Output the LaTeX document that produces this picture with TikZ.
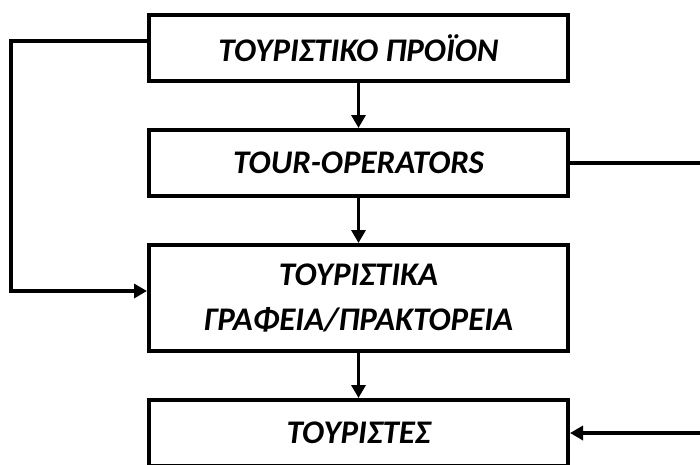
\documentclass[tikz,border=0pt]{standalone}
\usepackage{fontspec}
\setmainfont{Carlito}
\usepackage{tikz}
\usetikzlibrary{arrows.meta, positioning}

\tikzset{
	box/.style={draw=black, line width=4pt, minimum width=419pt, minimum height=66pt,
		align=center, font=\fontsize{33}{44}\selectfont\bfseries\itshape}
}

\begin{document}
\begin{tikzpicture}[->,
			>={Triangle[length=13pt,width=14pt]},
			node distance=45pt,
			line width=3.3pt]
			
			\useasboundingbox (0,0) rectangle (700pt,-464pt);
			\clip (0,0) rectangle (700pt,-464pt);
			
			\node[box] (prod) at (358.5pt,-48pt) {ΤΟΥΡΙΣΤΙΚΟ ΠΡΟΪΟΝ};
			\node[box] (tour) [below=of prod] {TOUR-OPERATORS};
			\node[box, minimum height=106pt] (agen) [below=of tour] {ΤΟΥΡΙΣΤΙΚΑ\\ΓΡΑΦΕΙΑ/ΠΡΑΚΤΟΡΕΙΑ};
			\node[box] (tourist) [below=of agen] {ΤΟΥΡΙΣΤΕΣ};
			
			\draw (prod) -- (tour);
			\draw (tour) -- (agen);
			\draw (agen) -- (tourist);
			\draw ([yshift=7pt]prod.west) -- ++(-136pt,0) |- ([yshift=7pt]agen.west);
			\draw (tour.east) -- ++(150pt,0) |- (tourist.east);
		\end{tikzpicture}
\end{document}
